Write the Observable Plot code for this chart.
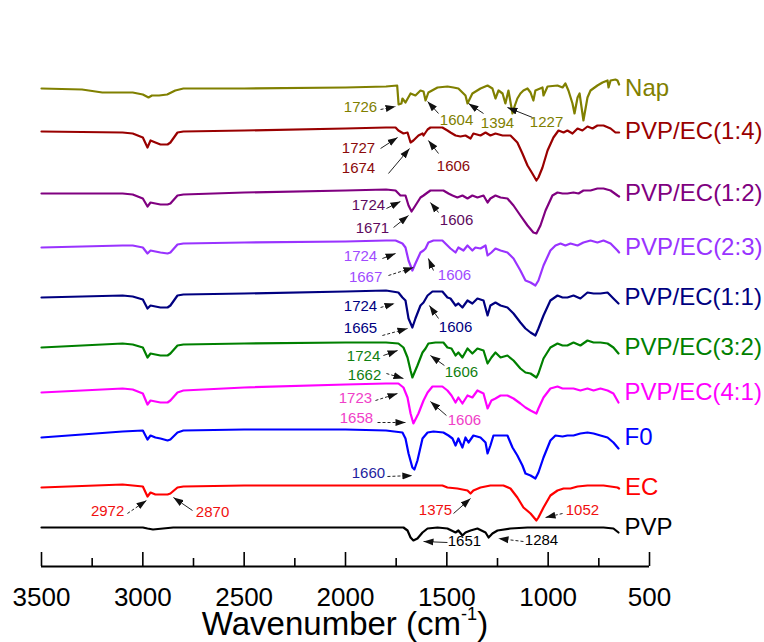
<!DOCTYPE html>
<html><head><meta charset="utf-8">
<script src="https://cdn.jsdelivr.net/npm/d3@7"></script>
<script src="https://cdn.jsdelivr.net/npm/@observablehq/plot@0.6"></script>
<style>
body{margin:0;background:#fff;font-family:"Liberation Sans",Arial,sans-serif;position:relative;width:764px;height:642px;overflow:hidden;}
#chart svg{display:block;}
#xlabel{position:absolute;top:604px;left:41px;width:608px;line-height:39px;text-align:center;font-size:33px;color:#000;white-space:nowrap;}
#xlabel sup{font-size:0.55em;line-height:0;vertical-align:0.8em;}
</style></head><body>
<div id="chart"></div>
<div id="xlabel">Wavenumber (cm<sup>-1</sup>)</div>
<script>
// Spectra: [wavenumber (cm-1), stacked transmittance (a.u.)]
const nap = [[3500,478],[3300,477],[3200,474],[3050,474],[3000,472],[2972,469],[2955,471],[2920,471],[2880,472],[2840,476],[2800,478],[2500,478],[2000,479],[1800,480],[1745,481],[1738,462],[1724,463],[1719,468],[1704,464],[1679,473],[1655,471],[1630,476],[1615,475],[1605,466],[1591,474],[1546,479],[1497,480],[1467,479],[1443,478],[1408,471],[1398,463],[1374,473],[1334,478],[1299,481],[1275,478],[1260,468],[1245,476],[1225,473],[1211,463],[1196,476],[1176,453],[1166,460],[1152,468],[1137,473],[1122,476],[1102,478],[1087,474],[1073,466],[1063,476],[1028,479],[1023,471],[1003,480],[954,481],[929,479],[915,483],[900,476],[880,463],[870,453],[855,469],[845,473],[826,446],[806,469],[791,476],[757,481],[732,484],[707,486],[702,479],[692,486],[668,487],[658,486],[650,482]];
const pvpEc14 = [[3500,435],[3100,434],[3050,433],[3000,429],[2977,419],[2962,426],[2938,424],[2913,422],[2878,422],[2864,424],[2829,434],[2800,435],[2500,436],[2000,438],[1800,439],[1753,439],[1739,436],[1714,433],[1694,434],[1679,424],[1665,426],[1640,431],[1620,433],[1615,431],[1595,437],[1581,439],[1522,439],[1497,436],[1482,434],[1457,431],[1433,430],[1408,431],[1383,428],[1369,433],[1334,431],[1309,434],[1285,431],[1260,433],[1225,431],[1186,431],[1152,424],[1127,413],[1102,401],[1078,393],[1058,386],[1048,389],[1028,399],[1003,416],[974,429],[949,436],[924,434],[905,436],[880,433],[855,438],[831,436],[806,440],[781,438],[757,441],[727,441],[692,438],[668,434],[650,434]];
const pvpEc12 = [[3500,373],[3100,373],[3050,372],[3000,368],[2977,360],[2962,364],[2938,363],[2913,362],[2878,362],[2864,363],[2829,371],[2800,372],[2500,374],[2000,376],[1800,377],[1753,376],[1729,371],[1704,371],[1689,361],[1674,355],[1655,361],[1630,369],[1615,371],[1595,374],[1581,376],[1517,376],[1492,373],[1472,371],[1448,369],[1423,371],[1398,368],[1374,371],[1349,369],[1319,371],[1299,364],[1285,368],[1260,371],[1235,369],[1201,368],[1171,361],[1137,351],[1102,341],[1073,334],[1058,333],[1038,341],[1013,356],[979,371],[954,374],[929,373],[905,373],[875,374],[850,373],[826,376],[791,376],[757,378],[727,378],[692,376],[658,371],[650,370]];
const pvpEc23 = [[3500,319],[3100,321],[3050,321],[3000,319],[2977,313],[2962,316],[2938,315],[2913,314],[2878,313],[2864,314],[2829,322],[2800,323],[2500,324],[2000,325],[1800,326],[1753,326],[1719,323],[1704,319],[1689,306],[1670,296],[1655,303],[1630,314],[1615,316],[1605,318],[1591,324],[1566,326],[1522,326],[1497,321],[1482,318],[1457,314],[1443,319],[1418,316],[1398,321],[1374,316],[1359,319],[1334,318],[1309,321],[1299,311],[1280,314],[1260,318],[1235,316],[1201,314],[1171,308],[1137,296],[1112,286],[1087,284],[1063,281],[1048,286],[1023,301],[989,316],[964,321],[939,323],[915,321],[890,323],[855,321],[826,324],[791,326],[757,324],[727,326],[692,323],[658,316],[650,314]];
const pvpEc11 = [[3500,269],[3100,271],[3050,270],[3000,267],[2977,258],[2962,261],[2938,260],[2913,259],[2878,259],[2864,261],[2829,271],[2800,272],[2500,273],[2000,275],[1800,276],[1739,274],[1719,269],[1704,266],[1689,248],[1670,239],[1655,248],[1630,261],[1615,264],[1595,271],[1571,275],[1522,275],[1497,269],[1482,268],[1457,261],[1443,263],[1423,259],[1398,266],[1374,263],[1349,268],[1319,266],[1299,251],[1285,261],[1260,264],[1235,261],[1201,259],[1171,253],[1137,244],[1112,238],[1087,234],[1063,231],[1048,238],[1023,251],[989,266],[954,271],[929,269],[905,269],[875,271],[841,268],[806,274],[776,273],[742,273],[707,274],[678,268],[653,263]];
const pvpEc32 = [[3500,219],[3100,223],[3050,222],[3000,219],[2977,209],[2962,213],[2938,212],[2913,211],[2878,211],[2864,213],[2829,221],[2800,222],[2500,223],[2000,224],[1800,224],[1739,223],[1714,219],[1694,209],[1679,196],[1670,189],[1645,201],[1620,214],[1605,218],[1591,223],[1556,224],[1517,224],[1497,219],[1477,218],[1457,211],[1443,214],[1423,209],[1398,218],[1374,213],[1349,218],[1319,216],[1299,203],[1280,209],[1260,214],[1235,209],[1201,211],[1171,206],[1137,198],[1112,194],[1087,193],[1058,189],[1048,193],[1023,208],[989,219],[954,223],[929,221],[905,221],[875,224],[841,221],[806,226],[776,224],[742,224],[707,223],[678,219],[653,213]];
const pvpEc41 = [[3500,174],[3300,176],[3100,178],[3050,177],[3000,173],[2977,162],[2962,166],[2938,165],[2913,164],[2878,164],[2864,166],[2829,174],[2800,176],[2500,179],[2000,182],[1800,183],[1739,183],[1714,179],[1694,169],[1679,153],[1665,143],[1640,153],[1615,166],[1595,174],[1571,180],[1522,180],[1497,176],[1477,171],[1457,164],[1443,169],[1423,163],[1398,171],[1374,169],[1349,176],[1319,173],[1299,158],[1280,166],[1260,168],[1235,171],[1201,171],[1171,168],[1137,163],[1112,159],[1087,156],[1058,153],[1048,158],[1023,169],[989,178],[954,180],[929,178],[905,178],[875,178],[841,176],[806,178],[776,176],[742,178],[707,176],[678,173],[653,164]];
const f0 = [[3500,129],[3300,132],[3100,135],[3000,136],[2977,127],[2962,131],[2938,129],[2913,128],[2878,126],[2864,127],[2829,134],[2800,136],[2500,137],[2000,137],[1800,136],[1719,134],[1704,128],[1689,113],[1670,99],[1660,97],[1645,106],[1620,128],[1595,134],[1566,135],[1517,134],[1492,131],[1472,128],[1457,121],[1443,128],[1423,119],[1408,129],[1393,124],[1369,131],[1334,129],[1309,124],[1299,113],[1285,121],[1270,131],[1235,131],[1201,131],[1176,119],[1152,111],[1127,101],[1112,93],[1087,91],[1063,88],[1048,94],[1023,109],[989,126],[964,131],[929,130],[905,131],[875,131],[841,133],[806,134],[776,133],[742,131],[707,129],[678,124],[653,118]];
const ec = [[3500,79],[3100,82],[3000,80],[2977,70],[2962,74],[2938,72],[2913,72],[2878,72],[2864,73],[2829,79],[2800,80],[2500,81],[2000,81],[1800,81],[1522,81],[1497,79],[1448,78],[1398,76],[1383,73],[1369,76],[1334,79],[1285,81],[1221,81],[1186,78],[1152,69],[1122,59],[1087,53],[1058,46],[1048,49],[1023,59],[989,71],[954,76],[924,78],[890,78],[855,80],[806,81],[727,81],[658,79],[650,78]];
const pvp = [[3500,39],[3000,39],[2977,38],[2950,37],[2900,38],[2850,39],[2500,39],[1800,39],[1714,39],[1694,36],[1679,29],[1665,26],[1645,28],[1620,34],[1595,38],[1546,39],[1497,38],[1457,34],[1443,36],[1423,31],[1408,34],[1383,36],[1349,38],[1309,34],[1294,29],[1275,33],[1250,36],[1186,38],[1102,39],[1023,39],[924,39],[826,39],[727,39],[678,38],[653,34]];

const seriesNames = ["Nap","PVP/EC(1:4)","PVP/EC(1:2)","PVP/EC(2:3)","PVP/EC(1:1)","PVP/EC(3:2)","PVP/EC(4:1)","F0","EC","PVP"];
const seriesData = [nap, pvpEc14, pvpEc12, pvpEc23, pvpEc11, pvpEc32, pvpEc41, f0, ec, pvp];

// Peak annotations: [series, label, text wn, text y, arrow start wn, y, arrow end wn, y]
const notes = [
  ["Nap","1726",1926,459,1827,457,1753,460],
  ["Nap","1604",1452,446,1541,453,1595,465],
  ["Nap","1394",1250,443,1319,453,1393,463],
  ["Nap","1227",1008,444,1077,449,1201,459],
  ["PVP/EC(1:4)","1727",1936,418,1827,418,1743,429],
  ["PVP/EC(1:4)","1674",1936,398,1788,393,1684,418],
  ["PVP/EC(1:4)","1606",1467,400,1541,413,1591,426],
  ["PVP/EC(1:2)","1724",1887,361,1798,358,1729,365],
  ["PVP/EC(1:2)","1671",1867,338,1763,339,1689,351],
  ["PVP/EC(1:2)","1606",1452,346,1541,354,1581,364],
  ["PVP/EC(2:3)","1724",1926,310,1818,308,1753,313],
  ["PVP/EC(2:3)","1667",1901,289,1788,291,1665,299],
  ["PVP/EC(2:3)","1606",1462,291,1566,296,1591,308],
  ["PVP/EC(1:1)","1724",1926,260,1827,259,1758,263],
  ["PVP/EC(1:1)","1665",1926,238,1818,231,1694,238],
  ["PVP/EC(1:1)","1606",1457,239,1541,248,1586,261],
  ["PVP/EC(3:2)","1724",1911,210,1813,211,1743,216],
  ["PVP/EC(3:2)","1662",1906,191,1798,193,1714,188],
  ["PVP/EC(3:2)","1606",1428,194,1512,201,1581,211],
  ["PVP/EC(4:1)","1723",1951,168,1852,166,1743,173],
  ["PVP/EC(4:1)","1658",1946,148,1842,144,1704,144],
  ["PVP/EC(4:1)","1606",1413,146,1502,151,1581,165],
  ["F0","1660",1887,93,1793,90,1670,91],
  ["EC","2972",3174,55,3076,53,2982,66],
  ["EC","2870",2656,54,2755,56,2849,69],
  ["EC","1375",1556,56,1467,53,1383,68],
  ["EC","1052",831,56,929,53,1013,49],
  ["PVP","1651",1413,25,1497,24,1615,25],
  ["PVP","1284",1033,26,1122,25,1245,28]
];

const majorTicks = [3500,3000,2500,2000,1500,1000,500];
const minorTicks = [3250,2750,2250,1750,1250,750];

// ---- styles ----
const lineColor = {"Nap":"#808000","PVP/EC(1:4)":"#990000","PVP/EC(1:2)":"#800080","PVP/EC(2:3)":"#9933FF","PVP/EC(1:1)":"#000080","PVP/EC(3:2)":"#008000","PVP/EC(4:1)":"#FF00FF","F0":"#0000FF","EC":"#FF0000","PVP":"#000000"};
const noteColor = {"Nap":"#808000","PVP/EC(1:4)":"#8B0A0A","PVP/EC(1:2)":"#5E0A5E","PVP/EC(2:3)":"#A04BFF","PVP/EC(1:1)":"#000080","PVP/EC(3:2)":"#108010","PVP/EC(4:1)":"#F040C8","F0":"#1E1EA0","EC":"#F01010","PVP":"#000000"};
const dashed = new Set(["Nap|1726","PVP/EC(2:3)|1667","PVP/EC(2:3)|1606","PVP/EC(1:1)|1724","PVP/EC(1:1)|1665","PVP/EC(3:2)|1662","PVP/EC(4:1)|1723","PVP/EC(4:1)|1658","F0|1660","EC|2972","EC|1052","PVP|1284"]);

function headMarker(color, context) {
  const doc = (context && context.document) || document;
  const ns = "http://www.w3.org/2000/svg";
  const m = doc.createElementNS(ns, "marker");
  m.setAttribute("viewBox", "-10 -4 10 8");
  m.setAttribute("markerWidth", 10);
  m.setAttribute("markerHeight", 8);
  m.setAttribute("refX", 0);
  m.setAttribute("refY", 0);
  m.setAttribute("orient", "auto");
  m.setAttribute("markerUnits", "userSpaceOnUse");
  const p = doc.createElementNS(ns, "path");
  p.setAttribute("d", "M-10,-3.5L0,0L-10,3.5Z");
  p.setAttribute("fill", "#111");
  p.setAttribute("stroke", "none");
  m.appendChild(p);
  return m;
}

function build(marker) {
  const marks = [];
  seriesNames.forEach((name, i) => {
    const data = seriesData[i];
    marks.push(Plot.line(data, {x: d => d[0], y: d => d[1], stroke: lineColor[name], strokeWidth: 2.2}));
    const last = data[data.length - 1];
    marks.push(Plot.text([name], {x: () => last[0], y: () => data[0][1], text: d => d, textAnchor: "start", dx: 6, fontSize: 24, fill: lineColor[name]}));
  });
  const solidNotes = notes.filter(n => !dashed.has(n[0] + "|" + n[1]));
  const dashNotes = notes.filter(n => dashed.has(n[0] + "|" + n[1]));
  marks.push(Plot.link(solidNotes, {x1: d => d[4], y1: d => d[5], x2: d => d[6], y2: d => d[7], stroke: "#222", strokeWidth: 1, markerEnd: marker}));
  marks.push(Plot.link(dashNotes, {x1: d => d[4], y1: d => d[5], x2: d => d[6], y2: d => d[7], stroke: "#222", strokeWidth: 1, strokeDasharray: "3,2", markerEnd: marker}));
  seriesNames.forEach(name => {
    const sub = notes.filter(n => n[0] === name);
    marks.push(Plot.text(sub, {x: d => d[2], y: d => d[3], text: d => d[1], fontSize: 15, fill: noteColor[name]}));
  });
  marks.push(Plot.ruleY([0], {stroke: "#000", strokeWidth: 2}));
  marks.push(Plot.ruleX(majorTicks, {x: d => d, y1: 0, y2: 14, stroke: "#000", strokeWidth: 1.6}));
  marks.push(Plot.ruleX(minorTicks, {x: d => d, y1: 0, y2: 8, stroke: "#000", strokeWidth: 1.6}));
  marks.push(Plot.axisX({ticks: majorTicks, tickFormat: d => String(d), tickSize: 0, tickPadding: 21, fontSize: 26, label: null, fill: "#000"}));
  return Plot.plot({
    width: 764, height: 610,
    marginLeft: 41, marginRight: 115, marginTop: 66, marginBottom: 44,
    x: {domain: [3500, 500]},
    y: {domain: [0, 500], axis: null},
    style: {fontFamily: "'Liberation Sans', Arial, sans-serif", background: "#fff", color: "#000", overflow: "visible"},
    marks
  });
}

let chart;
try { chart = build(headMarker); } catch (e) { console.error(e); chart = build("arrow"); }
document.getElementById("chart").appendChild(chart);
</script>
</body></html>
